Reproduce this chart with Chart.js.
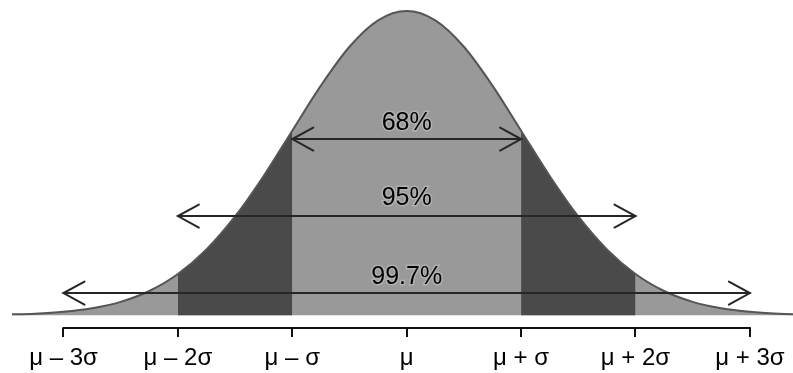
<!DOCTYPE html>
<html><head><meta charset="utf-8">
<script src="https://cdn.jsdelivr.net/npm/chart.js@4/dist/chart.umd.min.js"></script>
<style>html,body{margin:0;padding:0;background:#fff;}#wrap{width:793px;height:373px;position:relative;}</style>
</head><body><div id="wrap"><canvas id="c"></canvas></div>
<script>
// ---- data (in units of σ and density) ----
const xPositions = [-3.5,-3.25,-3,-2.75,-2.5,-2.25,-2,-1.75,-1.5,-1.25,-1,-0.75,-0.5,-0.25,0,0.25,0.5,0.75,1,1.25,1.5,1.75,2,2.25,2.5,2.75,3,3.25,3.5];
const density = [0.0009,0.0020,0.0044,0.0091,0.0175,0.0317,0.0540,0.0863,0.1295,0.1826,0.2420,0.3011,0.3521,0.3867,0.3989,0.3867,0.3521,0.3011,0.2420,0.1826,0.1295,0.0863,0.0540,0.0317,0.0175,0.0091,0.0044,0.0020,0.0009];
const tickValues = [-3,-2,-1,0,1,2,3];
const tickLabels = ['μ – 3σ','μ – 2σ','μ – σ','μ','μ + σ','μ + 2σ','μ + 3σ'];
const darkFrom = [-2,1];
const darkTo = [-1,2];
const bandNames = ['68%','95%','99.7%'];
const bandFrom = [-1,-2,-3];
const bandTo = [1,2,3];
const bandArrowLevel = [0.231,0.130,0.029];
const bandLabelLevel = [0.252,0.153,0.0505];

// ---- styles ----
const LIGHT = '#999999', DARK = '#4a4a4a';
const FONT = '"Liberation Sans", Arial, Helvetica, sans-serif';

const curvePoints = xPositions.map((x,i)=>({x:x,y:density[i]}));
const datasets = [{
  data: curvePoints, borderColor:'#555555', borderWidth:2, fill:false,
  pointRadius:0, cubicInterpolationMode:'monotone', order:0
},{
  data: curvePoints, borderWidth:0, borderColor:'transparent', backgroundColor:LIGHT,
  fill:'origin', pointRadius:0, cubicInterpolationMode:'monotone', order:2
}];
darkFrom.forEach((a,k)=>{
  datasets.push({
    data: curvePoints.filter(p=>p.x>=a && p.x<=darkTo[k]),
    borderWidth:0, borderColor:'transparent', backgroundColor:DARK,
    fill:'origin', pointRadius:0, cubicInterpolationMode:'monotone', order:1
  });
});

function drawArrowHead(ctx, x, y, dir){
  ctx.beginPath();
  ctx.moveTo(x - dir*21, y - 11.5);
  ctx.lineTo(x, y);
  ctx.lineTo(x - dir*21, y + 11.5);
  ctx.stroke();
}

const overlay = {
  id:'overlay',
  afterDatasetsDraw(chart){
    const ctx = chart.ctx, xs = chart.scales.x, ys = chart.scales.y;
    ctx.save();
    ctx.lineCap = 'round';
    bandNames.forEach((name,i)=>{
      const x1 = xs.getPixelForValue(bandFrom[i]);
      const x2 = xs.getPixelForValue(bandTo[i]);
      const y = ys.getPixelForValue(bandArrowLevel[i]);
      ctx.strokeStyle = '#262626'; ctx.lineWidth = 2;
      ctx.beginPath(); ctx.moveTo(x1,y); ctx.lineTo(x2,y); ctx.stroke();
      drawArrowHead(ctx, x1, y, -1);
      drawArrowHead(ctx, x2, y, 1);
      const ly = ys.getPixelForValue(bandLabelLevel[i]);
      const lx = xs.getPixelForValue((bandFrom[i]+bandTo[i])/2);
      ctx.font = '25px ' + FONT;
      ctx.textAlign = 'center'; ctx.textBaseline = 'middle';
      ctx.lineWidth = 3; ctx.strokeStyle = 'rgba(210,210,210,0.4)';
      ctx.strokeText(name, lx, ly);
      ctx.fillStyle = '#000';
      ctx.fillText(name, lx, ly);
    });
    ctx.restore();
  },
  afterDraw(chart){
    const ctx = chart.ctx, xs = chart.scales.x;
    ctx.save();
    ctx.strokeStyle = '#111'; ctx.lineWidth = 2;
    const y = Math.round(xs.top);
    ctx.beginPath();
    ctx.moveTo(xs.getPixelForValue(tickValues[0]) - 1, y);
    ctx.lineTo(xs.getPixelForValue(tickValues[tickValues.length-1]) + 1, y);
    ctx.stroke();
    ctx.restore();
  }
};

new Chart(document.getElementById('c'), {
  type:'line',
  data:{datasets:datasets},
  options:{
    responsive:true, maintainAspectRatio:false, animation:false,
    layout:{padding:{left:12,right:0,top:0,bottom:0}},
    plugins:{legend:{display:false}, tooltip:{enabled:false}},
    elements:{line:{tension:0}},
    scales:{
      x:{
        type:'linear', min:-3.45, max:3.377,
        afterBuildTicks(scale){ scale.ticks = tickValues.map(v=>({value:v})); },
        afterFit(scale){ scale.height = 45; },
        ticks:{
          autoSkip:false, maxRotation:0, padding:7, color:'#000',
          font:{family:FONT, size:24},
          callback:(v)=>{ const i = tickValues.indexOf(v); return i>=0 ? tickLabels[i] : ''; }
        },
        grid:{display:true, drawOnChartArea:false, drawTicks:true, tickLength:9, lineWidth:2, color:'#111'},
        border:{display:false}
      },
      y:{ display:false, min:-0.0168, max:0.4134 }
    }
  },
  plugins:[overlay]
});
</script>
</body></html>
